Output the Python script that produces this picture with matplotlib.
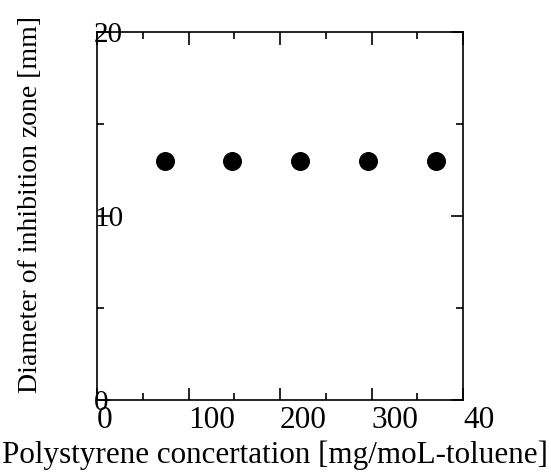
import matplotlib
matplotlib.use("Agg")
import matplotlib.pyplot as plt
from matplotlib.ticker import MultipleLocator

plt.rcParams['font.family'] = ['Liberation Serif', 'DejaVu Serif']

conc = [74, 148, 222, 296, 370]
diameter = [13, 13, 13, 13, 13]
xticks = [0, 100, 200, 300, 400]
xticklabels = ["0", "100", "200", "300", "40"]
yticks = [0, 10, 20]
yticklabels = ["0", "10", "20"]

fig = plt.figure(figsize=(5.51, 4.74), dpi=100)
ax = fig.add_axes([97/551, 74/474, 366/551, 368/474])
ax.scatter(conc, diameter, s=160, color='black', zorder=3, clip_on=False)
ax.set_xlim(0, 400)
ax.set_ylim(0, 20)
ax.set_xticks(xticks)
ax.set_xticklabels(xticklabels, fontsize=22.5)
ax.set_yticks(yticks)
ax.set_yticklabels(yticklabels, fontsize=21)
ax.xaxis.set_minor_locator(MultipleLocator(50))
ax.yaxis.set_minor_locator(MultipleLocator(5))
ax.tick_params(which='both', direction='in', top=True, right=True, width=1.2)
ax.tick_params(which='major', length=9)
ax.tick_params(which='minor', length=5)
ax.tick_params(axis='x', which='major', pad=4)
ax.tick_params(axis='y', which='major', pad=2)
for lbl in ax.get_xticklabels():
    lbl.set_horizontalalignment('left')
for lbl in ax.get_yticklabels():
    lbl.set_horizontalalignment('left')
for sp in ax.spines.values():
    sp.set_linewidth(1.2)

fig.text(275/551, 1 - 463/474, "Polystyrene concertation [mg/moL-toluene]",
         fontsize=22.4, ha='center', va='baseline')
fig.text(31/551, 1 - 205/474, "Diameter of inhibition zone [mm]",
         fontsize=20, ha='center', va='center', rotation=90)

fig.savefig("out.png", dpi=100)
